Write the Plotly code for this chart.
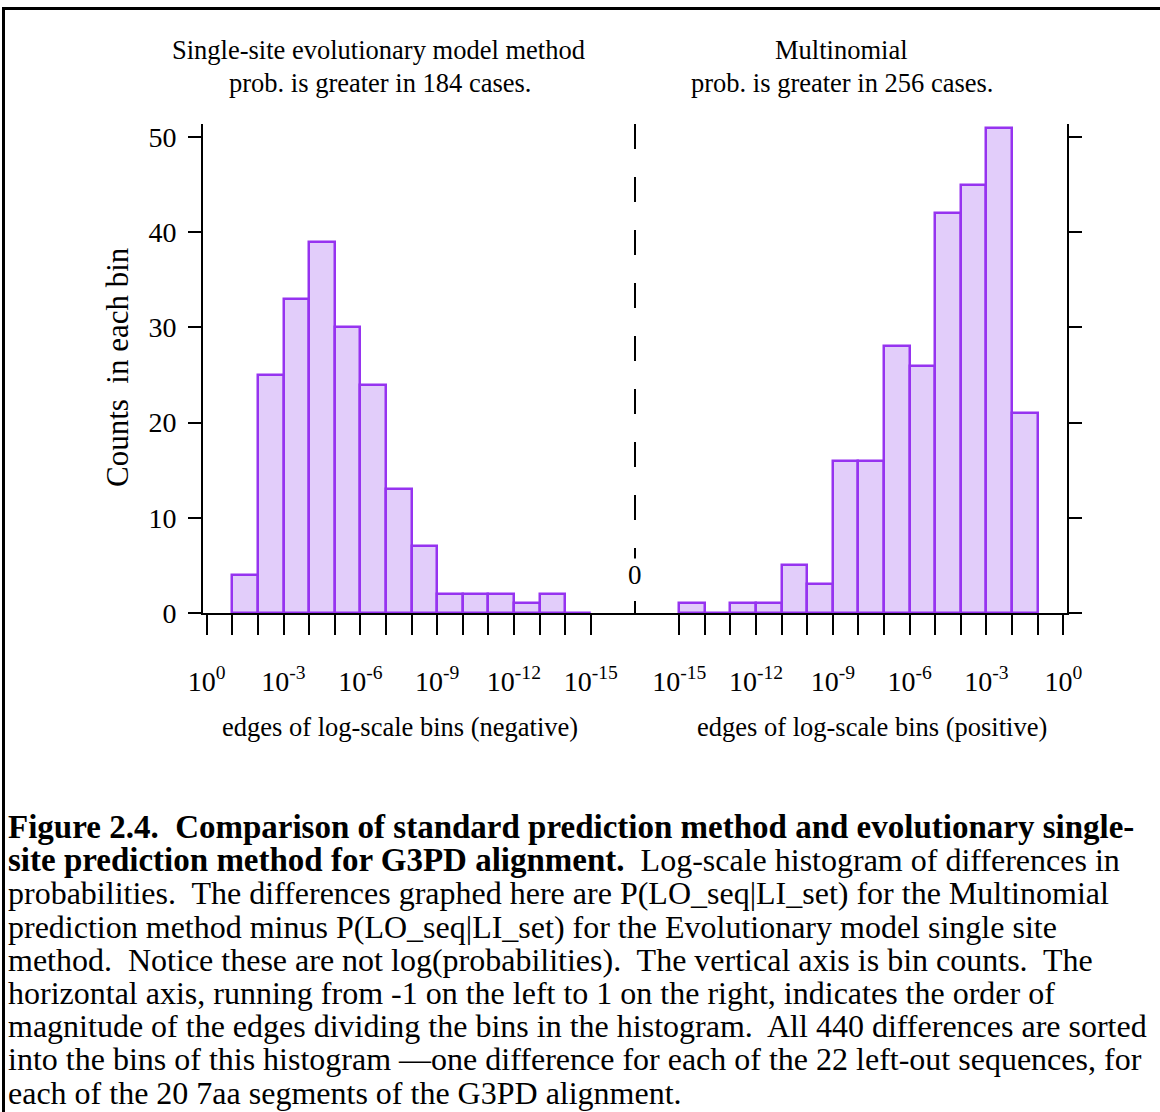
import plotly.graph_objects as go

# Bin counts: each bin spans one decade of |difference| between the two methods.
# Negative side: bins from 10^-1..10^-2 out to 10^-14..10^-15
neg_bin_upper_exp = [-1, -2, -3, -4, -5, -6, -7, -8, -9, -10, -11, -12, -13, -14]
neg_counts = [4, 25, 33, 39, 30, 24, 13, 7, 2, 2, 2, 1, 2, 0]
# Positive side: bins from 10^-15..10^-14 up to 10^-2..10^-1
pos_bin_lower_exp = [-15, -14, -13, -12, -11, -10, -9, -8, -7, -6, -5, -4, -3, -2]
pos_counts = [1, 0, 1, 1, 5, 3, 16, 16, 28, 26, 42, 45, 51, 21]

edge_exponents = list(range(0, -16, -1))        # 10^0 ... 10^-15 on each side
labelled_exponents = [0, -3, -6, -9, -12, -15]
y_ticks = [0, 10, 20, 30, 40, 50]

# Symmetric "signed log" coordinate: magnitude 10^e sits at +/-(OFFSET + e)
OFFSET = 16.73
X_HALF = 16.875
Y_MAX = 51.37


def to_u(exp, sign):
    return sign * (OFFSET + exp)


FONT = "Liberation Serif"
FILL = "#E2CDFA"
EDGE = "#9633F0"

fig = go.Figure()

fig.add_trace(go.Bar(
    x=[to_u(e - 0.5, -1) for e in neg_bin_upper_exp],
    y=neg_counts,
    width=1.0,
    marker=dict(color=FILL, line=dict(color=EDGE, width=2.5)),
    showlegend=False,
    hoverinfo="skip",
))
fig.add_trace(go.Bar(
    x=[to_u(e + 0.5, 1) for e in pos_bin_lower_exp],
    y=pos_counts,
    width=1.0,
    marker=dict(color=FILL, line=dict(color=EDGE, width=2.5)),
    showlegend=False,
    hoverinfo="skip",
))

tick_vals, tick_text = [], []
for sign in (-1, 1):
    for e in edge_exponents:
        tick_vals.append(to_u(e, sign))
        tick_text.append(f"10<sup>{e}</sup>" if e in labelled_exponents else "")

# Plot area in pixels
L, R, T, B = 203, 1067, 124, 613
W, H = 1160, 1112


def px(xp):
    return (xp - L) / (R - L)


def py(yp):
    return (B - yp) / (B - T)


fig.update_layout(
    width=W, height=H,
    margin=dict(l=L, r=W - R, t=T, b=H - B),
    paper_bgcolor="white", plot_bgcolor="white",
    bargap=0,
    font=dict(family=FONT, color="black", size=22),
    xaxis=dict(
        range=[-X_HALF, X_HALF],
        tickmode="array", tickvals=tick_vals, ticktext=tick_text,
        ticks="outside", ticklen=20, tickwidth=2, tickcolor="black",
        showline=True, linecolor="black", linewidth=2,
        showgrid=False, zeroline=False,
        tickfont=dict(family=FONT, size=28, color="black"),
        ticklabelstandoff=22,
    ),
    yaxis=dict(
        range=[0, Y_MAX],
        tickmode="array", tickvals=y_ticks,
        ticks="outside", ticklen=13, tickwidth=2, tickcolor="black",
        showline=True, linecolor="black", linewidth=2, mirror="ticks",
        showgrid=False, zeroline=False,
        tickfont=dict(family=FONT, size=28, color="black"),
        ticklabelstandoff=6,
    ),
)

# Dashed divider at zero and the crossing tick on the axis
fig.add_shape(type="line", xref="x", yref="y", x0=0, x1=0, y0=Y_MAX, y1=1.3,
              line=dict(color="black", width=2, dash="25px,28px"))
fig.add_shape(type="line", xref="x", yref="y", x0=0, x1=0,
              ysizemode="pixel", yanchor=0, y0=-10, y1=12,
              line=dict(color="black", width=2))

# Frame around the figure (top and left edges visible)
fig.add_shape(type="line", xref="paper", yref="paper",
              x0=px(2), x1=px(W + 5), y0=py(8.5), y1=py(8.5),
              line=dict(color="black", width=3))
fig.add_shape(type="line", xref="paper", yref="paper",
              x0=px(3.5), x1=px(3.5), y0=py(8.5), y1=py(H + 5),
              line=dict(color="black", width=3))


def text(s, xp, yp, size=22, anchor="center", angle=0, bg=None):
    fig.add_annotation(
        text=s, xref="paper", yref="paper", x=px(xp), y=py(yp),
        xanchor=anchor, yanchor="middle", showarrow=False, textangle=angle,
        font=dict(family=FONT, size=size, color="black"),
        bgcolor=bg, borderpad=0,
    )


fig.add_annotation(text="0", xref="x", yref="y", x=0, y=4.0, showarrow=False,
                   font=dict(family=FONT, size=27, color="black"),
                   bgcolor="white", borderpad=1)

text("Counts  in each bin", 117, 367, size=31, angle=-90)

text("Single-site evolutionary model method", 378, 50, size=26.5)
text("prob. is greater in 184 cases.", 380, 83, size=26.5)
text("Multinomial", 841, 50, size=26.5)
text("prob. is greater in 256 cases.", 842, 83, size=26.5)

text("edges of log-scale bins (negative)", 400, 727, size=26.5)
text("edges of log-scale bins (positive)", 872, 727, size=26.5)

# Bold runs are set slightly larger to match the heading weight
B_OPEN = '<span style="font-size:33px"><b>'
B_CLOSE = "</b></span>"
caption = [
    f"{B_OPEN}Figure 2.4.  Comparison of standard prediction method and evolutionary single-{B_CLOSE}",
    f"{B_OPEN}site prediction method for G3PD alignment.{B_CLOSE}  Log-scale histogram of differences in",
    "probabilities.  The differences graphed here are P(LO_seq|LI_set) for the Multinomial",
    "prediction method minus P(LO_seq|LI_set) for the Evolutionary model single site",
    "method.  Notice these are not log(probabilities).  The vertical axis is bin counts.  The",
    "horizontal axis, running from -1 on the left to 1 on the right, indicates the order of",
    "magnitude of the edges dividing the bins in the histogram.  All 440 differences are sorted",
    "into the bins of this histogram \u2014one difference for each of the 22 left-out sequences, for",
    "each of the 20 7aa segments of the G3PD alignment.",
]
for i, line in enumerate(caption):
    text(line, 7, 827 + i * 33.2, size=32, anchor="left")

fig.write_html("out.html")
